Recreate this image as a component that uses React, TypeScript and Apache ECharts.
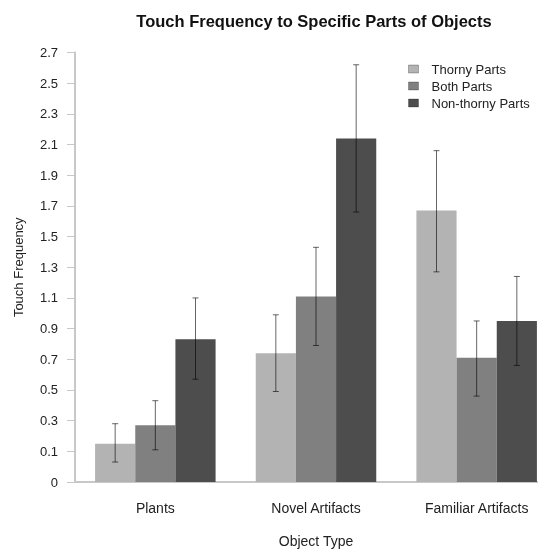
import React, { useEffect, useRef } from "react";
import * as echarts from "echarts";

const categories = ["Plants", "Novel Artifacts", "Familiar Artifacts"];
const seriesNames = ["Thorny Parts", "Both Parts", "Non-thorny Parts"];
const thorny = [0.15, 0.74, 1.67];
const both = [0.27, 1.11, 0.71];
const nonThorny = [0.83, 2.14, 0.95];
const thornyLow = [0.03, 0.49, 1.27];
const thornyHigh = [0.28, 0.99, 2.06];
const bothLow = [0.11, 0.79, 0.46];
const bothHigh = [0.43, 1.43, 0.95];
const nonLow = [0.57, 1.66, 0.66];
const nonHigh = [1.1, 2.62, 1.24];
const yTickLabels = ["0", "0.1", "0.3", "0.5", "0.7", "0.9", "1.1", "1.3", "1.5", "1.7", "1.9", "2.1", "2.3", "2.5", "2.7"];
const colors = ["#b3b3b3", "#808080", "#4d4d4d"];

// the axis "0" label sits half a step below 0.1, so values are drawn shifted by this amount
const OFFSET = 0.1;
const FONT = "Liberation Sans, Arial, sans-serif";

export default function App() {
  const ref = useRef<HTMLDivElement>(null);
  useEffect(() => {
    if (!ref.current) return;
    const chart = echarts.init(ref.current, null, { renderer: "svg" });
    const values = [thorny, both, nonThorny];
    const lows = [thornyLow, bothLow, nonLow];
    const highs = [thornyHigh, bothHigh, nonHigh];
    const errData: number[][] = [];
    for (let s = 0; s < 3; s++) {
      for (let c = 0; c < categories.length; c++) {
        errData.push([c, s, lows[s][c] + OFFSET, highs[s][c] + OFFSET]);
      }
    }
    const barSeries = seriesNames.map((name, s) => ({
      name,
      type: "bar",
      data: values[s].map((v) => v + OFFSET),
      barGap: "0%",
      barCategoryGap: "25%",
      itemStyle: { color: colors[s] },
      z: 2,
    }));
    chart.setOption({
      animation: false,
      textStyle: { fontFamily: FONT },
      graphic: [
        {
          type: "text",
          x: 314,
          y: 12,
          style: {
            text: "Touch Frequency to Specific Parts of Objects",
            font: `bold 16.5px ${FONT}`,
            fill: "#111",
            textAlign: "center",
          },
        },
      ],
      legend: {
        orient: "vertical",
        left: 403,
        top: 55.5,
        itemWidth: 10,
        itemHeight: 8,
        itemGap: 0,
        icon: "rect",
        itemStyle: { borderColor: "rgba(0,0,0,0.25)", borderWidth: 1 },
        textStyle: { fontSize: 13, color: "#222", fontFamily: FONT, lineHeight: 17, padding: [0, 0, 0, 8] },
        data: seriesNames,
      },
      grid: { left: 75, width: 482, top: 52.5, bottom: 67, containLabel: false, outerBoundsMode: "none" },
      xAxis: {
        type: "category",
        data: categories,
        axisLine: { lineStyle: { color: "#c8c8c8", width: 2 } },
        axisTick: { show: false },
        axisLabel: { fontSize: 14, color: "#222", margin: 19, fontFamily: FONT },
        name: "Object Type",
        nameLocation: "middle",
        nameGap: 52,
        nameTextStyle: { fontSize: 14, color: "#222", fontFamily: FONT },
      },
      yAxis: {
        type: "value",
        min: 0,
        max: 2.8,
        interval: 0.2,
        axisLine: { show: true, lineStyle: { color: "#c8c8c8", width: 2 } },
        axisTick: { show: true, length: 8, lineStyle: { color: "#c8c8c8", width: 1 } },
        splitLine: { show: false },
        axisLabel: {
          fontSize: 13,
          color: "#222",
          margin: 17,
          fontFamily: FONT,
          formatter: (_v: number, i: number) => yTickLabels[i],
        },
        name: "Touch Frequency",
        nameLocation: "middle",
        nameGap: 50,
        nameTextStyle: { fontSize: 13, color: "#222", fontFamily: FONT },
      },
      series: [
        ...barSeries,
        {
          type: "custom",
          z: 5,
          silent: true,
          encode: { x: 0, y: [2, 3] },
          data: errData,
          renderItem: (params: any, api: any) => {
            const c = api.value(0);
            const s = api.value(1);
            const lo = api.value(2);
            const hi = api.value(3);
            const catW = api.size([1, 0])[0];
            const barW = (catW * 0.75) / 3;
            const x = api.coord([c, 0])[0] + (s - 1) * barW;
            const yLo = api.coord([c, lo])[1];
            const yHi = api.coord([c, hi])[1];
            const style = { stroke: "rgba(0,0,0,0.6)", lineWidth: 1 };
            const cap = 3;
            return {
              type: "group",
              children: [
                { type: "line", shape: { x1: x, y1: yLo, x2: x, y2: yHi }, style },
                { type: "line", shape: { x1: x - cap, y1: yHi, x2: x + cap, y2: yHi }, style },
                { type: "line", shape: { x1: x - cap, y1: yLo, x2: x + cap, y2: yLo }, style },
              ],
            };
          },
        },
      ],
    });
    return () => chart.dispose();
  }, []);
  return <div ref={ref} style={{ position: "fixed", left: 0, top: 0, width: 538, height: 549 }} />;
}
